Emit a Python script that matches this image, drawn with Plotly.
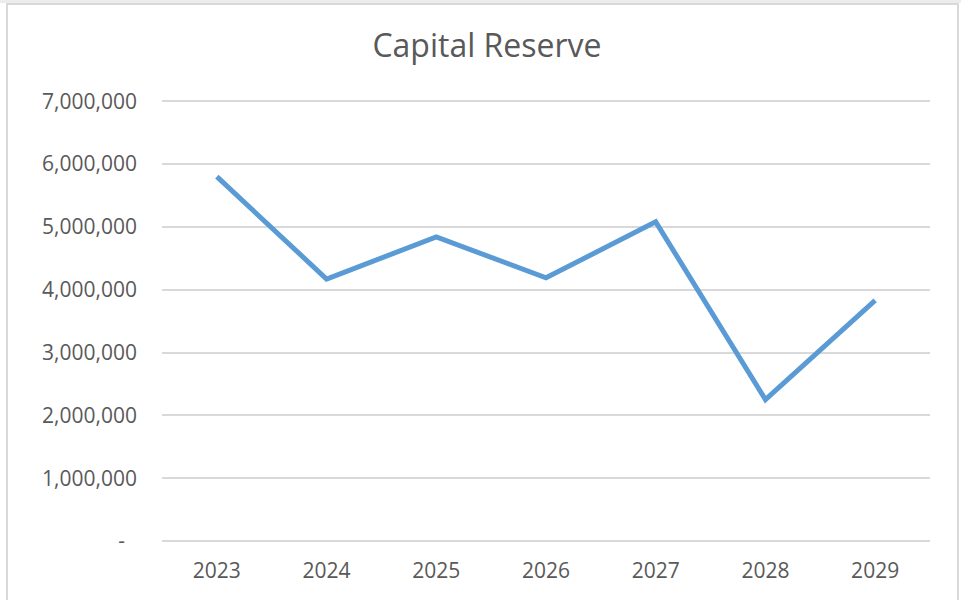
import plotly.graph_objects as go

years = ["2023", "2024", "2025", "2026", "2027", "2028", "2029"]
reserve = [5800000, 4170000, 4840000, 4190000, 5080000, 2250000, 3830000]
y_ticks = [0, 1000000, 2000000, 3000000, 4000000, 5000000, 6000000, 7000000]
y_ticktext = ["-\u2007", "1,000,000", "2,000,000", "3,000,000", "4,000,000",
              "5,000,000", "6,000,000", "7,000,000"]

W, H = 961, 600
FONT = "Open Sans, Liberation Sans, sans-serif"
TXT = "#595959"
GRID = "#d9d9d9"

Y_TOP = 7020000
T = 100
B = 59
PH = H - T - B

fig = go.Figure()
fig.add_trace(go.Scatter(
    x=years, y=reserve, mode="lines",
    line=dict(color="#5B9BD5", width=5),
    hoverinfo="x+y",
))

fig.update_layout(
    width=W, height=H,
    paper_bgcolor="white", plot_bgcolor="white",
    margin=dict(l=162, r=31, t=T, b=B),
    showlegend=False,
    title=dict(text="Capital Reserve", x=487 / W, xanchor="center",
               y=1 - 46 / H, yanchor="middle",
               font=dict(family=FONT, size=32, color=TXT)),
    font=dict(family=FONT, color=TXT),
    xaxis=dict(type="category", range=[-0.5, 6.5], showgrid=False,
               showline=False, zeroline=False, ticks="",
               tickfont=dict(family=FONT, size=21, color=TXT),
               ticklabelstandoff=15, fixedrange=True),
    yaxis=dict(range=[0, Y_TOP], tickvals=y_ticks, ticktext=y_ticktext,
               showgrid=True, gridcolor=GRID, gridwidth=1.5,
               zeroline=True, zerolinecolor=GRID, zerolinewidth=1.5,
               showline=False, ticks="",
               tickfont=dict(family=FONT, size=21, color=TXT),
               ticklabelstandoff=24, fixedrange=True),
    shapes=[
        dict(type="rect", xref="paper", yref="paper",
             x0=-155 / (W - 193), x1=(958 - 162) / (W - 193),
             y0=-(B + 5) / PH, y1=(H - B - 4) / PH,
             line=dict(color="#d9d9d9", width=2), fillcolor="rgba(0,0,0,0)",
             layer="below"),
        dict(type="rect", xref="paper", yref="paper",
             x0=-162 / (W - 193), x1=(W - 162) / (W - 193),
             y0=(H - B - 3) / PH, y1=(H - B) / PH,
             line=dict(width=0), fillcolor="#ececec", layer="below"),
    ],
)

fig.write_html("out.html")
